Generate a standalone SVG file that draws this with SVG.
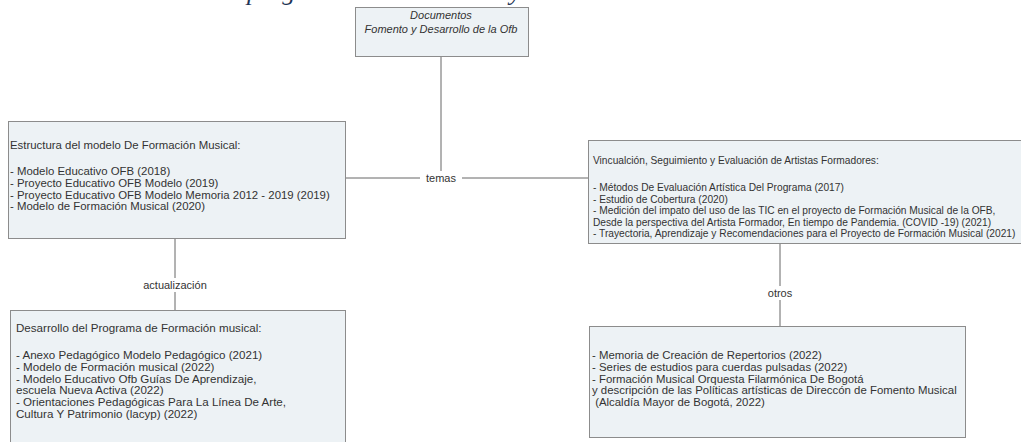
<svg xmlns="http://www.w3.org/2000/svg" width="1021" height="442" viewBox="0 0 1021 442">
<style>
.box{fill:#edf2f5;stroke:#8c8c8c;stroke-width:1}
.t{font-family:"Liberation Sans",Arial,sans-serif;fill:#333}
.a{font-size:11.4px}
.b{font-size:10.2px}
.c{font-size:11.6px}
.d{font-size:11.4px}
.ti{font-family:"Liberation Sans",Arial,sans-serif;font-size:11px;fill:#333;font-style:italic;text-anchor:middle}
.lbl{font-family:"Liberation Sans",Arial,sans-serif;font-size:11px;fill:#333;text-anchor:middle}
.ln{stroke:#666;stroke-width:1;fill:none}
</style>
<rect width="1021" height="442" fill="#ffffff"/>
<text x="247" y="0" font-family="'Liberation Serif',serif" font-style="italic" font-size="26" fill="#1f3556">programa de Formación y</text>
<g id="connectors">
<line class="ln" x1="441" y1="56" x2="441" y2="178"/>
<line class="ln" x1="345" y1="178" x2="588" y2="178"/>
<line class="ln" x1="175" y1="238" x2="175" y2="310"/>
<line class="ln" x1="780" y1="243" x2="780" y2="326"/>
<rect x="420" y="171" width="42" height="14" fill="#fff"/>
<text class="lbl" x="441" y="182">temas</text>
<rect x="138" y="278" width="74" height="14" fill="#fff"/>
<text class="lbl" x="175" y="289">actualización</text>
<rect x="765" y="286" width="30" height="14" fill="#fff"/>
<text class="lbl" x="780" y="297">otros</text>
</g>
<g id="n-top">
<rect class="box" x="355.5" y="7.5" width="173" height="49"/>
<text class="ti" x="441" y="19">Documentos</text>
<text class="ti" x="441" y="33">Fomento y Desarrollo de la Ofb</text>
</g>
<g id="n-estructura">
<rect class="box" x="8.5" y="121.5" width="337" height="117"/>
<text class="t a" x="10" y="149">Estructura del modelo De Formación Musical:</text>
<text class="t a" x="10" y="175">- Modelo Educativo OFB (2018)</text>
<text class="t a" x="10" y="186.8">- Proyecto Educativo OFB Modelo (2019)</text>
<text class="t a" x="10" y="198.6">- Proyecto Educativo OFB Modelo Memoria 2012 - 2019 (2019)</text>
<text class="t a" x="10" y="210.4">- Modelo de Formación Musical (2020)</text>
</g>
<g id="n-vinculacion">
<rect class="box" x="588.5" y="140.5" width="440" height="103"/>
<text class="t b" x="593" y="164">Vincualción, Seguimiento y Evaluación de Artistas Formadores:</text>
<text class="t b" x="593" y="191">- Métodos De Evaluación Artística Del Programa (2017)</text>
<text class="t b" x="593" y="202.5">- Estudio de Cobertura (2020)</text>
<text class="t b" x="593" y="214">- Medición del impato del uso de las TIC en el proyecto de Formación Musical de la OFB,</text>
<text class="t b" x="593" y="225.5">Desde la perspectiva del Artista Formador, En tiempo de Pandemia. (COVID -19) (2021)</text>
<text class="t b" x="593" y="237">- Trayectoria, Aprendizaje y Recomendaciones para el Proyecto de Formación Musical (2021)</text>
</g>
<g id="n-desarrollo">
<rect class="box" x="10.5" y="310.5" width="335" height="140"/>
<text class="t c" x="16" y="332">Desarrollo del Programa de Formación musical:</text>
<text class="t c" x="16" y="359">- Anexo Pedagógico Modelo Pedagógico (2021)</text>
<text class="t c" x="16" y="370.8">- Modelo de Formación musical (2022)</text>
<text class="t c" x="16" y="382.6">- Modelo Educativo Ofb Guías De Aprendizaje,</text>
<text class="t c" x="16" y="394.4">escuela Nueva Activa (2022)</text>
<text class="t c" x="16" y="406.2">- Orientaciones Pedagógicas Para La Línea De Arte,</text>
<text class="t c" x="16" y="418">Cultura Y Patrimonio (lacyp) (2022)</text>
</g>
<g id="n-otros">
<rect class="box" x="589.5" y="326.5" width="376" height="111"/>
<text class="t d" x="592" y="359">- Memoria de Creación de Repertorios (2022)</text>
<text class="t d" x="592" y="370.8">- Series de estudios para cuerdas pulsadas (2022)</text>
<text class="t d" x="592" y="382.6">- Formación Musical Orquesta Filarmónica De Bogotá</text>
<text class="t d" x="592" y="394.4">y descripción de las Políticas artísticas de Direccón de Fomento Musical</text>
<text class="t d" x="592" y="406.2" xml:space="preserve"> (Alcaldía Mayor de Bogotá, 2022)</text>
</g>
</svg>
